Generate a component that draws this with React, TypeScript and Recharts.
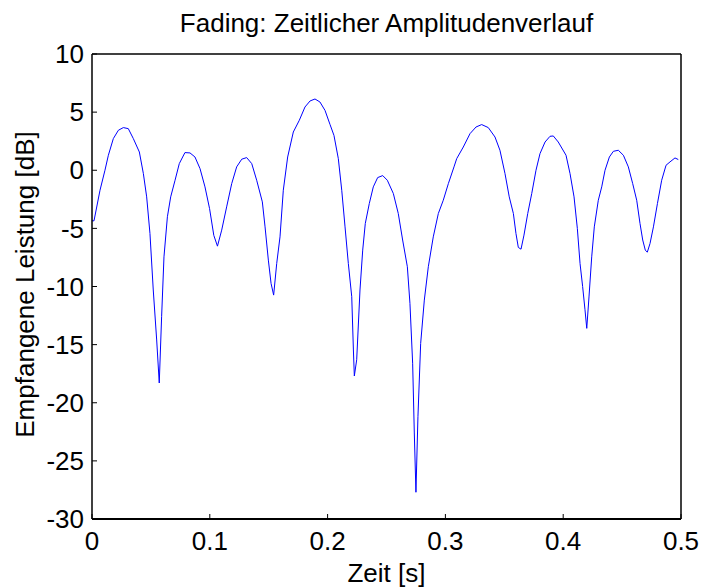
import React from "react";
import { LineChart, Line, XAxis, YAxis } from "recharts";

// time axis [s]
const time = [
  0.0, 0.0017, 0.0068, 0.011, 0.0139, 0.0181, 0.0224, 0.0266, 0.0308, 0.0351,
  0.0402, 0.0436, 0.0464, 0.0492, 0.052, 0.0549, 0.0571, 0.0591, 0.0611, 0.064,
  0.0668, 0.0705, 0.0741, 0.0789, 0.0832, 0.0874, 0.0917, 0.0959, 0.0998, 0.1034,
  0.1065, 0.1101, 0.1143, 0.1186, 0.1228, 0.1271, 0.1313, 0.1356, 0.1398, 0.1446,
  0.1469, 0.1497, 0.152, 0.1542, 0.1568, 0.1596, 0.1624, 0.1661, 0.1709, 0.176,
  0.1808, 0.1851, 0.1893, 0.1935, 0.1978, 0.202, 0.2054, 0.2091, 0.212, 0.2148,
  0.2176, 0.2205, 0.2219, 0.2227, 0.2247, 0.2275, 0.2298, 0.232, 0.2354, 0.2388,
  0.2425, 0.2468, 0.2507, 0.2558, 0.26, 0.2637, 0.2677, 0.2699, 0.2722, 0.2736,
  0.275, 0.2767, 0.279, 0.2821, 0.2855, 0.2897, 0.294, 0.2982, 0.3025, 0.3073,
  0.3096, 0.3152, 0.3209, 0.326, 0.3308, 0.3364, 0.3421, 0.3463, 0.3506, 0.3542,
  0.3577, 0.3599, 0.3619, 0.3642, 0.3667, 0.3699, 0.3733, 0.3769, 0.3803, 0.3846,
  0.3888, 0.3916, 0.3958, 0.4024, 0.4058, 0.4092, 0.412, 0.4143, 0.4165, 0.4185,
  0.42, 0.4219, 0.4242, 0.4264, 0.4298, 0.4327, 0.4355, 0.4392, 0.4426, 0.4468,
  0.4511, 0.4553, 0.459, 0.4624, 0.4652, 0.4675, 0.4697, 0.4714, 0.4737, 0.4766,
  0.48, 0.4836, 0.4873, 0.4907, 0.4949, 0.4977,
];

// received power [dB]
const power = [
  -4.35, -4.35, -1.72, 0.0, 1.29, 2.72, 3.44, 3.67, 3.58, 2.72,
  1.57, -0.29, -2.29, -5.44, -10.3, -14.6, -18.3, -12.6, -7.45, -4.0,
  -2.29, -0.86, 0.57, 1.52, 1.49, 1.14, 0.14, -1.43, -3.3, -5.6,
  -6.53, -5.15, -3.15, -1.15, 0.29, 0.95, 1.09, 0.57, -0.86, -2.72,
  -4.87, -7.73, -9.73, -10.74, -8.02, -5.73, -1.72, 1.14, 3.29, 4.3,
  5.44, 5.96, 6.13, 5.87, 5.15, 3.95, 3.0, 1.0, -1.72, -4.87,
  -8.02, -10.88, -15.46, -17.7, -16.3, -10.3, -6.87, -4.58, -2.86, -1.43,
  -0.63, -0.46, -0.86, -2.0, -3.72, -6.0, -8.3, -11.45, -16.6, -22.6,
  -27.7, -21.2, -14.9, -11.17, -8.3, -5.73, -3.72, -2.58, -1.15, 0.29,
  1.0, 2.0, 3.15, 3.72, 3.93, 3.67, 2.86, 1.72, -0.29, -2.29,
  -3.72, -5.44, -6.64, -6.79, -5.58, -3.72, -2.0, 0.0, 1.43, 2.43,
  2.92, 2.95, 2.43, 1.29, -0.29, -2.29, -5.0, -8.02, -10.0, -12.0,
  -13.6, -10.9, -7.45, -4.87, -2.58, -1.43, 0.0, 1.14, 1.63, 1.72,
  1.29, 0.29, -1.15, -2.58, -4.58, -6.0, -6.87, -7.05, -6.3, -4.87,
  -2.86, -0.86, 0.43, 0.72, 1.06, 0.92,
];

const xTicks = [0, 0.1, 0.2, 0.3, 0.4, 0.5];
const yTicks = [-30, -25, -20, -15, -10, -5, 0, 5, 10];

const data = time.map((t, i) => ({ t, p: power[i] }));

const FONT = "Arial, 'Liberation Sans', sans-serif";
const tickStyle = { fill: "#000", fontSize: 26, fontFamily: FONT };
const axisLine = { stroke: "#000", strokeWidth: 1.5 };
const tickLine = { stroke: "#000", strokeWidth: 1 };

const TitleLabel = ({ viewBox }: any) => (
  <text
    x={viewBox.x + viewBox.width / 2}
    y={32}
    textAnchor="middle"
    fontSize={26}
    fontFamily={FONT}
    fill="#000"
  >
    Fading: Zeitlicher Amplitudenverlauf
  </text>
);

const XLabel = ({ viewBox }: any) => (
  <text
    x={viewBox.x + viewBox.width / 2}
    y={viewBox.y + viewBox.height - 6}
    textAnchor="middle"
    fontSize={26}
    fontFamily={FONT}
    fill="#000"
  >
    Zeit [s]
  </text>
);

const YLabel = ({ viewBox }: any) => {
  const cx = 34;
  const cy = viewBox.y + viewBox.height / 2 - 2;
  return (
    <text
      x={cx}
      y={cy}
      transform={`rotate(-90, ${cx}, ${cy})`}
      textAnchor="middle"
      fontSize={26}
      fontFamily={FONT}
      fill="#000"
    >
      Empfangene Leistung [dB]
    </text>
  );
};

export default function App() {
  return (
    <div style={{ position: "absolute", left: 0, top: 0, background: "#fff" }}>
      <LineChart
        width={703}
        height={588}
        data={data}
        margin={{ top: 0, right: 0, bottom: 0, left: 0 }}
      >
        <XAxis
          dataKey="t"
          type="number"
          domain={[0, 0.5]}
          ticks={xTicks}
          height={69}
          tick={tickStyle}
          tickSize={-5}
          tickMargin={18}
          axisLine={{ stroke: "#000", strokeWidth: 2 }}
          tickLine={tickLine}
          interval={0}
          label={{ content: XLabel }}
        />
        <XAxis
          xAxisId="top"
          orientation="top"
          type="number"
          domain={[0, 0.5]}
          allowDataOverflow
          ticks={xTicks}
          height={54}
          tick={false}
          tickSize={-5}
          axisLine={axisLine}
          tickLine={tickLine}
          interval={0}
          label={{ content: TitleLabel }}
        />
        <YAxis
          type="number"
          domain={[-30, 10]}
          ticks={yTicks}
          width={92}
          tick={tickStyle}
          tickSize={-5}
          tickMargin={13}
          axisLine={axisLine}
          tickLine={tickLine}
          interval={0}
          label={{ content: YLabel }}
        />
        <YAxis
          yAxisId="right"
          orientation="right"
          type="number"
          domain={[-30, 10]}
          allowDataOverflow
          ticks={yTicks}
          width={22}
          tick={false}
          tickSize={-5}
          axisLine={axisLine}
          tickLine={tickLine}
          interval={0}
        />
        <Line
          type="linear"
          dataKey="p"
          stroke="#0000ff"
          strokeWidth={1}
          dot={false}
          isAnimationActive={false}
        />
      </LineChart>
    </div>
  );
}
